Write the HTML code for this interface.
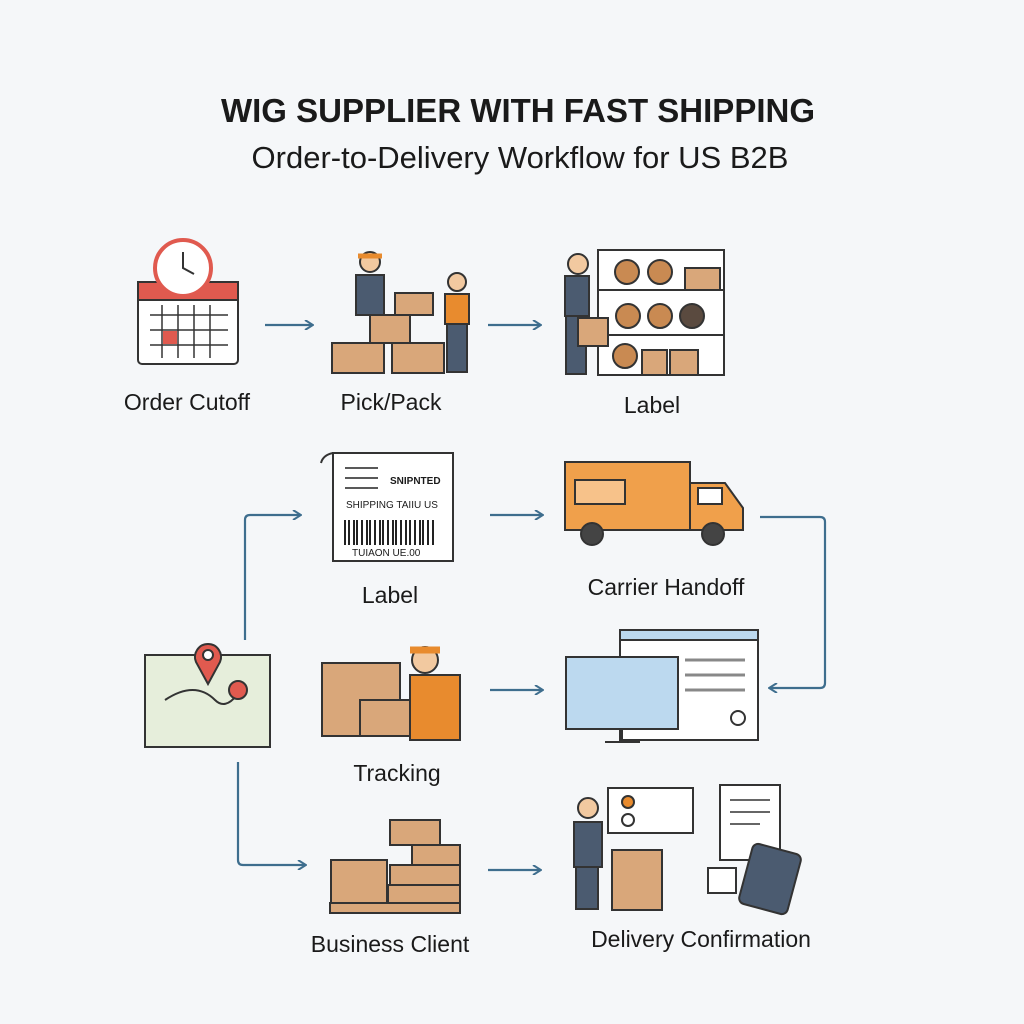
<!DOCTYPE html>
<html><head><meta charset="utf-8"><style>
html,body{margin:0;padding:0;background:#f5f7f9;}
svg{display:block}
text{font-family:"Liberation Sans",sans-serif;fill:#1a1a1a}
</style></head><body>
<svg width="1024" height="1024" viewBox="0 0 1024 1024" xmlns="http://www.w3.org/2000/svg">
<rect width="1024" height="1024" fill="#f5f7f9"/>
<text x="518" y="122" font-size="33" font-weight="bold" text-anchor="middle">WIG SUPPLIER WITH FAST SHIPPING</text>
<text x="520" y="168" font-size="31" text-anchor="middle">Order-to-Delivery Workflow for US B2B</text>

<defs>
<marker id="ah" markerWidth="10" markerHeight="10" refX="8" refY="5" orient="auto" markerUnits="userSpaceOnUse">
<path d="M1,0 L9,5 L1,10" fill="none" stroke="#3e6e8e" stroke-width="2"/></marker>
</defs>
<g stroke="#3e6e8e" stroke-width="2.2" fill="none" marker-end="url(#ah)">
<path d="M265 325 H312"/><path d="M488 325 H540"/>
<path d="M490 515 H542"/><path d="M490 690 H542"/><path d="M488 870 H540"/>
<path d="M245 640 V520 Q245 515 250 515 H300"/>
<path d="M238 762 V860 Q238 865 243 865 H305"/>
<path d="M760 517 H820 Q825 517 825 522 V683 Q825 688 820 688 H770"/>
</g>

<!-- Order cutoff calendar+clock -->
<g stroke="#333" stroke-width="2" fill="#fff">
<rect x="138" y="282" width="100" height="82" rx="4"/>
<rect x="138" y="282" width="100" height="18" fill="#e05a4f"/>
<path d="M150 315H228M150 330H228M150 345H228M162 305V358M178 305V358M194 305V358M210 305V358" fill="none" stroke-width="1.5"/>
<rect x="163" y="331" width="14" height="13" fill="#e05a4f" stroke="none"/>
<circle cx="183" cy="268" r="28" fill="#fff" stroke="#e05a4f" stroke-width="4"/>
<path d="M183 252V268L194 274" fill="none"/>
</g>
<text x="187" y="410" font-size="23" text-anchor="middle">Order Cutoff</text>

<!-- Pick/Pack -->
<g stroke="#333" stroke-width="2">
<rect x="332" y="343" width="52" height="30" fill="#d9a77a"/>
<rect x="392" y="343" width="52" height="30" fill="#d9a77a"/>
<rect x="370" y="315" width="40" height="28" fill="#d9a77a"/>
<rect x="395" y="293" width="38" height="22" fill="#d9a77a"/>
<circle cx="370" cy="262" r="10" fill="#f2c9a0"/><path d="M358 256h24" stroke="#e88b2e" stroke-width="5"/>
<rect x="356" y="275" width="28" height="40" fill="#4b5b70"/>
<circle cx="457" cy="282" r="9" fill="#f2c9a0"/>
<rect x="445" y="294" width="24" height="30" fill="#e88b2e"/>
<rect x="447" y="324" width="20" height="48" fill="#4b5b70"/>
</g>
<text x="391" y="410" font-size="23" text-anchor="middle">Pick/Pack</text>

<!-- Warehouse -->
<g stroke="#333" stroke-width="2" fill="none">
<rect x="598" y="250" width="126" height="125" fill="#fff"/>
<path d="M598 290H724M598 335H724"/>
<g fill="#c98a52"><circle cx="627" cy="272" r="12"/><circle cx="660" cy="272" r="12"/><circle cx="628" cy="316" r="12"/><circle cx="660" cy="316" r="12"/><circle cx="692" cy="316" r="12" fill="#5a4a3f"/><circle cx="625" cy="356" r="12"/></g>
<rect x="685" y="268" width="35" height="22" fill="#d9a77a"/>
<rect x="642" y="350" width="25" height="25" fill="#d9a77a"/><rect x="670" y="350" width="28" height="25" fill="#d9a77a"/>
<circle cx="578" cy="264" r="10" fill="#f2c9a0"/>
<rect x="565" y="276" width="24" height="40" fill="#4b5b70"/>
<rect x="566" y="316" width="20" height="58" fill="#4b5b70"/>
<rect x="578" y="318" width="30" height="28" fill="#d9a77a"/>
</g>
<text x="652" y="413" font-size="23" text-anchor="middle">Label</text>

<!-- Shipping label -->
<g stroke="#333" stroke-width="2">
<rect x="333" y="453" width="120" height="108" fill="#fff"/>
<path d="M333 453q-10 2-12 10" fill="none"/>
<g stroke="#222" stroke-width="2">
<path d="M345 520V545M349 520V545M354 520V545M357 520V545M362 520V545M367 520V545M370 520V545M375 520V545M380 520V545M383 520V545M388 520V545M393 520V545M396 520V545M401 520V545M406 520V545M410 520V545M415 520V545M420 520V545M423 520V545M428 520V545M433 520V545"/>
<path d="M345 468H378M345 478H378M345 488H378" stroke-width="1.5"/>
</g>
</g>
<text x="390" y="484" font-size="10" font-weight="bold" fill="#222">SNIPNTED</text>
<text x="346" y="508" font-size="10" fill="#222">SHIPPING TAIIU US</text>
<text x="352" y="556" font-size="10" fill="#222">TUIAON UE.00</text>
<text x="390" y="603" font-size="23" text-anchor="middle">Label</text>

<!-- Truck -->
<g stroke="#333" stroke-width="2">
<rect x="565" y="462" width="125" height="68" fill="#f0a04b"/>
<path d="M690 483H725L743 508V530H690Z" fill="#f0a04b"/>
<rect x="698" y="488" width="24" height="16" fill="#fff"/>
<circle cx="592" cy="534" r="11" fill="#444"/><circle cx="713" cy="534" r="11" fill="#444"/>
<rect x="575" y="480" width="50" height="24" fill="#f7c28a"/>
</g>
<text x="666" y="595" font-size="23" text-anchor="middle">Carrier Handoff</text>

<!-- Map -->
<g stroke="#333" stroke-width="2">
<rect x="145" y="655" width="125" height="92" fill="#e6eedb"/>
<path d="M165 700q30-20 50 0q10 10 22 -5" fill="none"/>
<path d="M208 684 L196 662 A13 13 0 1 1 220 662 Z" fill="#e05a4f"/>
<circle cx="208" cy="655" r="5" fill="#fff"/>
<circle cx="238" cy="690" r="9" fill="#e05a4f"/>
</g>

<!-- Tracking person boxes -->
<g stroke="#333" stroke-width="2">
<rect x="322" y="663" width="78" height="73" fill="#d9a77a"/>
<rect x="360" y="700" width="70" height="36" fill="#d9a77a"/>
<circle cx="425" cy="660" r="13" fill="#f2c9a0"/><path d="M410 650h30" stroke="#e88b2e" stroke-width="7"/>
<rect x="410" y="675" width="50" height="65" fill="#e88b2e"/>
</g>
<text x="397" y="781" font-size="23" text-anchor="middle">Tracking</text>

<!-- Screens -->
<g stroke="#333" stroke-width="2">
<rect x="620" y="630" width="138" height="110" fill="#fff"/>
<rect x="620" y="630" width="138" height="10" fill="#bcd9ef"/>
<path d="M685 660H745M685 675H745M685 690H745" stroke="#888" stroke-width="3"/>
<rect x="566" y="657" width="112" height="72" fill="#bcd9ef"/>
<path d="M622 729V742M605 742H640" fill="none"/>
<circle cx="738" cy="718" r="7" fill="none"/>
</g>

<!-- Business client boxes -->
<g stroke="#333" stroke-width="2" fill="#d9a77a">
<rect x="330" y="903" width="130" height="10"/>
<rect x="331" y="860" width="56" height="43"/>
<rect x="388" y="885" width="72" height="18"/>
<rect x="390" y="865" width="70" height="20"/>
<rect x="412" y="845" width="48" height="20"/>
<rect x="390" y="820" width="50" height="25"/>
</g>
<text x="390" y="952" font-size="23" text-anchor="middle">Business Client</text>

<!-- Delivery confirmation -->
<g stroke="#333" stroke-width="2">
<rect x="608" y="788" width="85" height="45" fill="#fff"/>
<circle cx="628" cy="802" r="6" fill="#e88b2e"/><circle cx="628" cy="820" r="6" fill="#fff"/>
<circle cx="588" cy="808" r="10" fill="#f2c9a0"/>
<rect x="574" y="822" width="28" height="45" fill="#4b5b70"/>
<rect x="576" y="867" width="22" height="42" fill="#4b5b70"/>
<rect x="612" y="850" width="50" height="60" fill="#d9a77a"/>
<rect x="720" y="785" width="60" height="75" fill="#fff"/>
<path d="M730 800H770M730 812H770M730 824H760" stroke-width="1.5"/>
<rect x="708" y="868" width="28" height="25" fill="#fff"/>
<rect x="745" y="848" width="50" height="62" rx="6" fill="#4b5b70" transform="rotate(15 770 879)"/>
</g>
<text x="701" y="947" font-size="23" text-anchor="middle">Delivery Confirmation</text>
</svg>
</body></html>
